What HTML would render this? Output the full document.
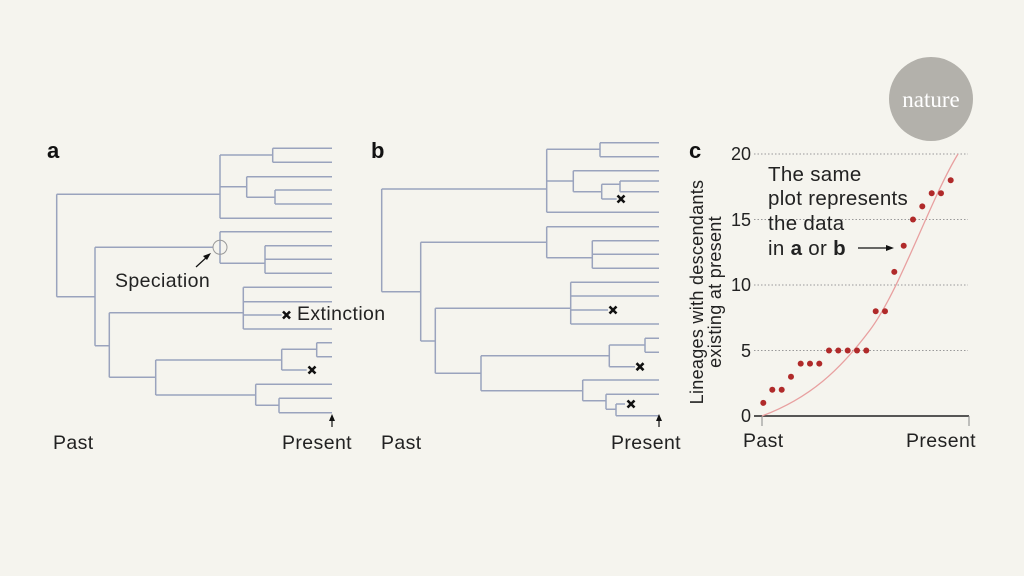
<!DOCTYPE html>
<html><head><meta charset="utf-8"><style>
body{margin:0;background:#f5f4ee;}
svg{display:block;font-family:"Liberation Sans",sans-serif;}
</style></head><body>
<svg width="1024" height="576" viewBox="0 0 1024 576">
<rect width="1024" height="576" fill="#f5f4ee"/>
<g fill="none" stroke="#9aa3bd" stroke-width="1.5">
<path d="M56.7 194.3V296.7M56.7 194.3H220M56.7 296.7H95"/>
<path d="M220 155V218.3M220 155H272.7M272.7 148.3V162.3M272.7 148.3H332M272.7 162.3H332"/>
<path d="M220 186.7H246.7M246.7 176.7V197.3M246.7 176.7H332M246.7 197.3H275M275 190V204M275 190H332M275 204H332M220 218.3H332"/>
<path d="M95 247.3V345.7M95 247.3H213M220 231.7V263.3M220 231.7H332M220 263.3H265M265 245.7V273.3M265 245.7H332M265 259.3H332M265 273.3H332"/>
<path d="M95 345.7H109.3M109.3 312.7V377.3M109.3 312.7H243.3M243.3 287.3V329M243.3 287.3H332M243.3 301.7H332M243.3 315H281.7M243.3 329H332"/>
<path d="M109.3 377.3H155.7M155.7 360V395M155.7 360H281.7M281.7 349.3V370M281.7 349.3H316.7M316.7 342.7V356.7M316.7 342.7H332M316.7 356.7H332M281.7 370H306.7"/>
<path d="M155.7 395H255.7M255.7 384.3V405.3M255.7 384.3H332M255.7 405.3H279M279 398.3V412.7M279 398.3H332M279 412.7H332"/>
<path d="M381.7 189V291.7M381.7 189H546.7M381.7 291.7H420.7"/>
<path d="M546.7 149.3V212.3M546.7 149.3H600M600 142.7V156.7M600 142.7H659M600 156.7H659M546.7 181H573.3M573.3 170.7V191.7M573.3 170.7H659M573.3 191.7H601.7M601.7 184.3V199M601.7 184.3H620M620 181V191.7M620 181H659M620 191.7H659M601.7 199H616.7M546.7 212.3H659"/>
<path d="M420.7 242.3V341M420.7 242.3H546.7M546.7 226.7V257.7M546.7 226.7H659M546.7 257.7H592.3M592.3 240.7V268.3M592.3 240.7H659M592.3 254.3H659M592.3 268.3H659"/>
<path d="M420.7 341H435.3M435.3 308.3V373.3M435.3 308.3H570.7M570.7 282.3V324M570.7 282.3H659M570.7 296H659M570.7 310H608M570.7 324H659"/>
<path d="M435.3 373.3H481M481 355.7V390.7M481 355.7H609.3M609.3 345V366.7M609.3 345H645M645 338.3V352.3M645 338.3H659M645 352.3H659M609.3 366.7H635"/>
<path d="M481 390.7H582.7M582.7 380V400.7M582.7 380H659M582.7 400.7H606M606 394.3V409.3M606 394.3H659M606 409.3H616M616 404V415.7M616 404H625M616 415.7H659"/>
</g>
<circle cx="220" cy="247.3" r="7" fill="none" stroke="#999" stroke-width="1"/>
<g stroke="#111" stroke-width="2.6" fill="none">
<path d="M283 311.5l7 7M290 311.5l-7 7"/>
<path d="M308.5 366.5l7 7M315.5 366.5l-7 7"/>
<path d="M617.5 195.5l7 7M624.5 195.5l-7 7"/>
<path d="M609.5 306.5l7 7M616.5 306.5l-7 7"/>
<path d="M636.5 363.2l7 7M643.5 363.2l-7 7"/>
<path d="M627.5 400.5l7 7M634.5 400.5l-7 7"/>
</g>
<g stroke="#111" stroke-width="1.2" fill="#111">
<line x1="196" y1="267" x2="208" y2="256"/><path d="M211 253L203 256L207 260Z" stroke="none"/>
<line x1="332" y1="427" x2="332" y2="418"/><path d="M332 414L329 421L335 421Z" stroke="none"/>
<line x1="659" y1="427" x2="659" y2="418"/><path d="M659 414L656 421L662 421Z" stroke="none"/>
<line x1="858" y1="248" x2="888" y2="248"/><path d="M894 248L886 245L886 251Z" stroke="none"/>
</g>
<g font-size="19.5" fill="#222" letter-spacing="0.4">
<text x="115" y="287">Speciation</text>
<text x="297" y="320">Extinction</text>
<text x="53" y="449">Past</text><text x="282" y="449">Present</text>
<text x="381" y="449">Past</text><text x="611" y="449">Present</text>
<text x="743" y="447">Past</text><text x="906" y="447">Present</text>
</g>
<g font-size="22" font-weight="bold" fill="#111">
<text x="47" y="158">a</text><text x="371" y="158">b</text><text x="689" y="158">c</text>
</g>
<g stroke="#999" stroke-width="1" stroke-dasharray="1.5 2">
<line x1="754" y1="154" x2="968" y2="154"/><line x1="754" y1="219.5" x2="968" y2="219.5"/>
<line x1="754" y1="285" x2="968" y2="285"/><line x1="754" y1="350.5" x2="968" y2="350.5"/>
</g>
<line x1="754" y1="416" x2="969" y2="416" stroke="#222" stroke-width="1.5"/>
<line x1="762" y1="416" x2="762" y2="426" stroke="#888"/><line x1="969" y1="416" x2="969" y2="426" stroke="#888"/>
<g font-size="18" fill="#222" text-anchor="end">
<text x="751" y="160">20</text><text x="751" y="226">15</text><text x="751" y="291">10</text><text x="751" y="357">5</text><text x="751" y="422">0</text>
</g>
<path d="M762 416 C810 398 840 370 870 330 S930 200 958 154" fill="none" stroke="#e8a0a0" stroke-width="1.3"/>
<g fill="#b02a2a">
<circle cx="763.3" cy="402.9" r="3"/><circle cx="772.3" cy="389.8" r="3"/><circle cx="781.7" cy="389.8" r="3"/><circle cx="791" cy="376.7" r="3"/><circle cx="800.7" cy="363.6" r="3"/><circle cx="810" cy="363.6" r="3"/><circle cx="819.3" cy="363.6" r="3"/><circle cx="829" cy="350.5" r="3"/><circle cx="838.3" cy="350.5" r="3"/><circle cx="847.7" cy="350.5" r="3"/><circle cx="857" cy="350.5" r="3"/><circle cx="866.3" cy="350.5" r="3"/><circle cx="875.7" cy="311.2" r="3"/><circle cx="885" cy="311.2" r="3"/><circle cx="894.3" cy="271.9" r="3"/><circle cx="903.7" cy="245.7" r="3"/><circle cx="913" cy="219.5" r="3"/><circle cx="922.3" cy="206.4" r="3"/><circle cx="931.7" cy="193.3" r="3"/><circle cx="941" cy="193.3" r="3"/><circle cx="950.7" cy="180.2" r="3"/>
</g>
<g font-size="20.5" fill="#222" letter-spacing="0.3">
<text x="768" y="181">The same</text><text x="768" y="205">plot represents</text><text x="768" y="230">the data</text><text x="768" y="255">in <tspan font-weight="bold">a</tspan> or <tspan font-weight="bold">b</tspan></text>
</g>
<g font-size="18" fill="#222" text-anchor="middle" letter-spacing="0.3">
<text transform="translate(703,292) rotate(-90)">Lineages with descendants</text>
<text transform="translate(721,292) rotate(-90)">existing at present</text>
</g>
<circle cx="931" cy="99" r="42" fill="#b3b1ab"/>
<text x="931" y="107" font-family="Liberation Serif,serif" font-size="23" fill="#fff" text-anchor="middle">nature</text>
</svg>
</body></html>
